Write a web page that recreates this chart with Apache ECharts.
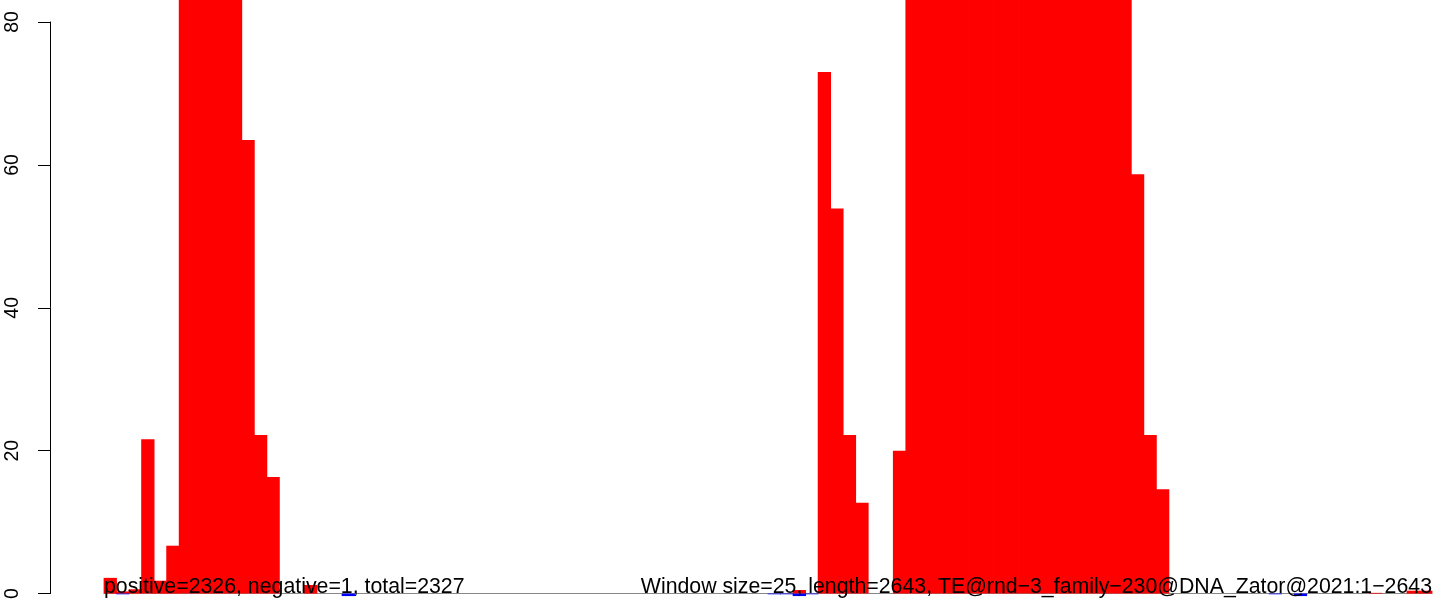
<!DOCTYPE html>
<html>
<head>
<meta charset="utf-8">
<script src="https://cdn.jsdelivr.net/npm/echarts@6/dist/echarts.min.js"></script>
<style>
  html, body { margin: 0; padding: 0; background: #fff; }
  #main { width: 1449px; height: 602px; }
</style>
</head>
<body>
<div id="main"></div>
<script>
// coverage per 25bp window (106 windows)
const positive = [
  2.2, 0.3, 0.6, 21.6, 1.8, 6.7, 84, 87, 89, 88,
  85, 63.5, 22.2, 16.3, 0, 0, 1.2, 0, 0, 0,
  0, 0, 0, 0, 0, 0, 0, 0, 0, 0,
  0, 0, 0, 0, 0, 0, 0, 0, 0, 0,
  0, 0, 0, 0, 0, 0, 0, 0, 0, 0,
  0, 0, 0, 0, 0, 0.5, 0, 73.0, 53.9, 22.2,
  12.7, 0, 0, 20.0, 84, 85, 86, 87, 88, 88,
  89, 89, 90, 90, 89, 89, 88, 88, 87, 86,
  85, 84, 58.7, 22.2, 14.6, 0, 0, 0, 0, 0,
  0, 0, 0, 0, 0, 0, 0, 0, 0, 0,
  0, 0.1, 0, 0, 0.4, 0.4
];
const negative = [
  0, -0.1, 0, 0, 0, 0, 0, 0, 0, 0,
  0, 0, 0, 0, 0, 0, 0, 0, 0, -0.35,
  0, 0, 0, 0, 0, 0, 0, 0, 0, 0,
  0, 0, 0, 0, 0, 0, 0, 0, 0, 0,
  0, 0, 0, 0, 0, 0, 0, 0, 0, 0,
  0, 0, 0, -0.1, -0.1, -0.35, -0.1, 0, 0, 0,
  0, 0, 0, 0, 0, 0, 0, 0, 0, 0,
  0, 0, 0, 0, 0, 0, 0, 0, 0, 0,
  0, 0, 0, 0, 0, 0, 0, 0, 0, 0,
  0, 0, 0, -0.1, 0, -0.35, 0, 0, 0, 0,
  0, 0, 0, 0, 0, 0
];
const yTicks = [0, 20, 40, 60, 80];
const leftNote = 'positive=2326, negative=1, total=2327';
const rightNote = 'Window size=25, length=2643, TE@rnd\u22123_family\u2212230@DNA_Zator@2021:1\u22122643';

const windowSize = 25;
const windows = positive.map((v, i) => String(i * windowSize + 1));

const chart = echarts.init(document.getElementById('main'));

const option = {
  animation: false,
  backgroundColor: '#ffffff',
  grid: { left: 104, right: 17, top: 22, bottom: 7 },
  xAxis: {
    type: 'category',
    data: windows,
    boundaryGap: true,
    axisLine: { show: true, lineStyle: { color: '#888888', width: 1 } },
    axisTick: { show: false },
    axisLabel: { show: false },
    splitLine: { show: false }
  },
  yAxis: {
    type: 'value',
    min: yTicks[0],
    max: yTicks[yTicks.length - 1],
    interval: 20,
    offset: 54,
    axisLine: { show: true, lineStyle: { color: '#000', width: 1 } },
    axisTick: { show: true, length: 12, lineStyle: { color: '#000', width: 1 } },
    axisLabel: {
      rotate: 90,
      margin: 27,
      color: '#000',
      fontSize: 19.5,
      fontFamily: 'Liberation Sans'
    },
    splitLine: { show: false }
  },
  series: [
    {
      type: 'bar',
      data: positive,
      // a bit wider than the 12.5px band so neighbours overlap (no seams)
      barWidth: 13.3,
      barGap: '-100%',
      clip: false,
      itemStyle: { color: '#ff0000' }
    },
    {
      type: 'bar',
      data: negative,
      barWidth: 13.3,
      barGap: '-100%',
      clip: false,
      itemStyle: { color: '#0000ff' }
    }
  ],
  graphic: [
    {
      type: 'text',
      x: 104,
      y: 587,
      z: 10,
      style: {
        text: leftNote,
        font: '21.3px "Liberation Sans"',
        fill: '#000',
        align: 'left',
        verticalAlign: 'middle'
      }
    },
    {
      type: 'text',
      x: 1432,
      y: 587,
      z: 10,
      style: {
        text: rightNote,
        font: '21.3px "Liberation Sans"',
        fill: '#000',
        align: 'right',
        verticalAlign: 'middle'
      }
    }
  ]
};

chart.setOption(option);
</script>
</body>
</html>
